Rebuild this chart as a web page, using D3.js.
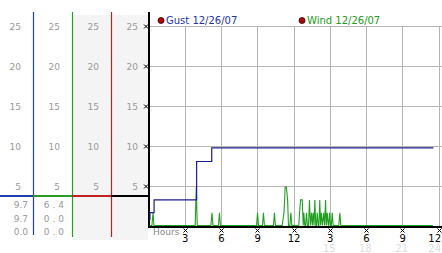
<!DOCTYPE html>
<html><head><meta charset="utf-8">
<script src="https://cdn.jsdelivr.net/npm/d3@7"></script>
<style>body{margin:0;background:#fff}svg{display:block}text{font-family:"DejaVu Sans",Verdana,sans-serif}</style>
</head><body><svg id="c" width="442" height="253"></svg>
<script>
// ---- data ----
const yTicks = [5, 10, 15, 20, 25];
const xTickHours = [3, 6, 9, 12, 15, 18, 21, 24];
const xTickLabels = ["3", "6", "9", "12", "3", "6", "9", "12"];
const xFaintHours = [15, 18, 21, 24];
const xFaintLabels = ["15", "18", "21", "24"];
const seriesNames = ["Gust 12/26/07", "Wind 12/26/07"];
const gustStats = ["9.7", "9.7", "0.0"];
const windStats = ["6.4", "0.0", "0.0"];
const markerLevel = 3.7;
const gust = [[0, 0.8], [0.04, 1.6], [0.38, 3.2], [3.9, 8.0], [5.15, 9.7], [23.5, 9.7]];
const wind = [
  [0, 0], [0.2, 0], [0.29, 1.6], [0.37, 0],
  [3.78, 0], [3.87, 4.8], [3.95, 0],
  [5.08, 0], [5.17, 1.6], [5.25, 0],
  [5.71, 0], [5.79, 1.6], [5.87, 0],
  [8.86, 0], [8.94, 1.6], [9.02, 0],
  [9.35, 0], [9.43, 1.6], [9.51, 0],
  [10.26, 0], [10.34, 1.6], [10.42, 0],
  [10.98, 0], [11.13, 1.6], [11.23, 4.8], [11.33, 4.8], [11.43, 3.2], [11.5, 0],
  [11.62, 0], [11.7, 1.6], [11.78, 0],
  [12.35, 0], [12.42, 1.6], [12.5, 3.2], [12.64, 3.2], [12.72, 0], [12.77, 1.6], [12.85, 0],
  [12.92, 0], [12.99, 1.6], [13.07, 0],
  [13.16, 0], [13.24, 3.2], [13.32, 0], [13.41, 1.6], [13.48, 0], [13.55, 1.6], [13.62, 0], [13.68, 3.2], [13.76, 0],
  [13.82, 0], [13.88, 1.6], [13.96, 0],
  [14.02, 0], [14.09, 3.2], [14.16, 0], [14.23, 1.6], [14.32, 0], [14.42, 1.6], [14.5, 0], [14.57, 3.2], [14.64, 0], [14.71, 1.6], [14.8, 0],
  [14.84, 0], [14.9, 1.6], [14.98, 0],
  [15.05, 0], [15.12, 1.6], [15.2, 0],
  [15.67, 0], [15.75, 1.6], [15.83, 0],
  [23.45, 0]
];
const columnColors = ["#1f3fb4", "#2a9a2a", "#c02020", "#000000"];
const gustColor = "#1c1c8c", windColor = "#22a022";

// ---- setup ----
const W = 442, H = 253;
const svg = d3.select("#c");
const x = d3.scaleLinear().domain([0, 24]).range([149.5, 439.5]);
const y = d3.scaleLinear().domain([0, 25]).range([226, 26]);
const colX = d3.scaleLinear().domain([0, 3]).range([33, 150]);

// gray panel
svg.append("rect").attr("x", colX(1) + 1).attr("y", 15).attr("width", 148 - colX(1) - 1).attr("height", 225).attr("fill", "#f4f4f4");

// gridlines
const grid = svg.append("g").attr("stroke", "#b4b4b4").attr("stroke-width", 1);
yTicks.forEach(v => grid.append("line").attr("x1", x(0)).attr("x2", W).attr("y1", y(v) + 0.5).attr("y2", y(v) + 0.5));
xTickHours.forEach(h => grid.append("line").attr("x1", Math.round(x(h)) - 0.5).attr("x2", Math.round(x(h)) - 0.5).attr("y1", y(25)).attr("y2", y(0)));

// left panel columns
for (let i = 0; i < 3; i++) {
  svg.append("line").attr("x1", colX(i) + 0.5).attr("x2", colX(i) + 0.5).attr("y1", 12).attr("y2", i === 0 ? 235 : 237)
    .attr("stroke", columnColors[i]).attr("stroke-width", 1.2);
}
for (let i = 0; i < 4; i++) {
  svg.append("g").selectAll("text").data(yTicks).join("text")
    .attr("x", colX(i) - 12).attr("y", d => y(d) + 3.5).attr("text-anchor", "end")
    .attr("font-size", 9).attr("fill", "#999").text(d => d);
}
// marker level segments
const my = Math.round(y(markerLevel));
for (let i = 0; i < 4; i++) {
  const x0 = i === 0 ? 0 : colX(i - 1);
  const x1 = i === 3 ? 149 : colX(i);
  svg.append("rect").attr("x", x0).attr("y", my - 1).attr("width", x1 - x0).attr("height", 2).attr("fill", columnColors[i]);
}
// stats
[gustStats, windStats].forEach((arr, i) => {
  svg.append("g").selectAll("text").data(arr).join("text")
    .attr("x", colX(i) - 5).attr("y", (d, j) => 208 + j * 13.5).attr("text-anchor", "end")
    .attr("font-size", 9).attr("fill", "#999")
    .attr("letter-spacing", i === 1 ? 3 : 0).text(d => d);
});

// main axes
svg.append("rect").attr("x", 148).attr("y", 12).attr("width", 2).attr("height", 216).attr("fill", "#000");
svg.append("rect").attr("x", 148).attr("y", 226).attr("width", W - 148).attr("height", 2).attr("fill", "#000");

// tick markers
function marker(g, cx, cy) {
  g.append("path").attr("d", `M${cx - 2},${cy - 2}L${cx + 2},${cy + 2}M${cx + 2},${cy - 2}L${cx - 2},${cy + 2}`)
    .attr("stroke", "#000").attr("stroke-width", 1).attr("fill", "none");
}
const mk = svg.append("g");
yTicks.forEach(v => marker(mk, 146, y(v) + 0.5));
xTickHours.forEach(h => marker(mk, Math.round(x(h)) - 0.5, 230.5));

// x labels
svg.append("g").selectAll("text").data(xTickHours).join("text")
  .attr("x", (d, i) => i === xTickHours.length - 1 ? W - 1 : x(d) - 0.5)
  .attr("y", 241.5).attr("text-anchor", (d, i) => i === xTickHours.length - 1 ? "end" : "middle")
  .attr("font-size", 10).attr("fill", "#000").text((d, i) => xTickLabels[i]);
svg.append("g").selectAll("text").data(xFaintHours).join("text")
  .attr("x", (d, i) => i === xFaintHours.length - 1 ? W - 1 : x(d) - 1.5)
  .attr("y", 252).attr("text-anchor", (d, i) => i === xFaintHours.length - 1 ? "end" : "middle")
  .attr("font-size", 10).attr("fill", "#dcdcdc").text((d, i) => xFaintLabels[i]);
svg.append("text").attr("x", 153).attr("y", 235).attr("font-size", 9).attr("fill", "#888").text("Hours");

// data lines
const dg = svg.append("g").attr("transform", "translate(0,-0.5)");
dg.append("path").datum(wind)
  .attr("d", d3.line().x(d => x(d[0])).y(d => y(d[1])))
  .attr("fill", "none").attr("stroke", windColor).attr("stroke-width", 1.1);
dg.append("path").datum(gust)
  .attr("d", d3.line().curve(d3.curveStepAfter).x(d => x(d[0])).y(d => y(d[1])))
  .attr("fill", "none").attr("stroke", gustColor).attr("stroke-width", 1.2);

// legend
const legX = [161, 302];
const legColors = ["#2233aa", "#229922"];
seriesNames.forEach((n, i) => {
  svg.append("circle").attr("cx", legX[i]).attr("cy", 20.5).attr("r", 3).attr("fill", "#b00000").attr("stroke", "#300").attr("stroke-width", 0.8);
  svg.append("text").attr("x", legX[i] + 5).attr("y", 24).attr("font-size", 10).attr("fill", legColors[i]).text(n);
});
</script></body></html>
